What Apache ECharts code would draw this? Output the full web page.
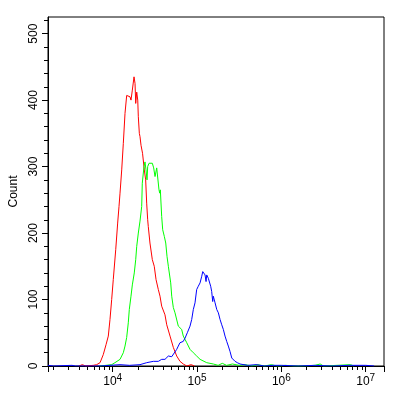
<!DOCTYPE html>
<html>
<head>
<meta charset="utf-8">
<script src="https://cdn.jsdelivr.net/npm/echarts@6/dist/echarts.min.js"></script>
<style>
html,body{margin:0;padding:0;background:#fff;}
#chart{width:404px;height:394px;}
</style>
</head>
<body>
<div id="chart"></div>
<script>
// x positions are in decades (log10 of fluorescence intensity)
var redX = [3.60,3.64,3.68,3.77,3.81,3.85,3.888,3.921,3.948,3.968,3.988,4.007,4.036,4.059,4.075,4.087,4.107,4.126,4.146,4.166,4.185,4.205,4.217,4.233,4.253,4.265,4.273,4.285,4.297,4.304,4.316,4.324,4.336,4.354,4.375,4.391,4.403,4.415,4.422,4.442,4.470,4.493,4.514,4.541,4.561,4.581,4.600,4.620,4.641,4.680,4.719,4.759,4.798,4.837,4.878,4.93,4.97];
var redY = [0,2,0,1,2,5,17,32,45,70,100,130,175,215,240,260,295,335,380,407,408,405,400,415,435,425,395,412,400,375,350,345,332,320,295,280,245,220,210,185,160,150,130,115,105,90,88,77,62,45,28,15,7,3,0,2,0];

var greenX = [3.85,3.988,4.027,4.087,4.126,4.146,4.166,4.185,4.197,4.217,4.233,4.256,4.273,4.285,4.304,4.324,4.344,4.351,4.371,4.383,4.395,4.407,4.415,4.431,4.454,4.470,4.486,4.502,4.522,4.541,4.549,4.558,4.565,4.581,4.593,4.612,4.629,4.644,4.660,4.688,4.700,4.719,4.739,4.778,4.818,4.837,4.858,4.878,4.917,4.956,4.996,5.036,5.115,5.193,5.25,5.30,5.35,5.42,5.50,5.57,5.65,5.72,5.80,5.88,5.95,6.05,6.15,6.25,6.40,6.46,6.5,6.82,6.86];
var greenY = [0,2,5,10,20,30,43,65,85,105,122,140,160,180,200,218,240,275,300,307,295,280,300,305,302,305,298,285,298,295,265,260,265,225,205,195,185,165,150,125,105,88,80,60,55,45,40,35,25,20,15,10,5,3,1,4,1,3,1,2,0,2,0,2,0,1,0,0,1,3,0,2,0];

var blueX = [3.233,3.30,3.517,3.56,3.849,4.087,4.20,4.324,4.403,4.482,4.541,4.581,4.620,4.660,4.700,4.719,4.759,4.778,4.798,4.837,4.858,4.885,4.917,4.937,4.956,4.976,4.996,5.015,5.036,5.056,5.068,5.087,5.095,5.107,5.115,5.134,5.146,5.162,5.174,5.186,5.193,5.214,5.234,5.253,5.273,5.293,5.312,5.332,5.352,5.371,5.391,5.412,5.431,5.451,5.478,5.510,5.60,5.70,5.80,5.90,6.00,6.20,6.40,6.60,6.80,7.00,7.10];
var blueY = [1,0,1,0,0,2,1,2,5,7,7,10,10,15,14,17,25,30,35,37,42,50,60,70,85,95,115,120,125,135,142,142,137,127,137,132,130,120,112,97,105,95,85,80,70,62,55,45,37,30,22,12,10,7,5,3,1,2,0,1,1,0,1,0,1,1,0];

var xMin = 3.233, xMax = 7.217;
var majorDecades = [4,5,6,7];
var yMax = 525;
var yMajor = [0,100,200,300,400,500];

function zip(xs, ys){ var o=[]; for(var i=0;i<xs.length;i++){ o.push([xs[i], ys[i]]); } return o; }

var minorTicks = [];
for (var d = 3; d <= 7; d++) {
  for (var k = 2; k <= 9; k++) {
    var v = d + Math.log10(k);
    if (v > xMin && v < xMax) minorTicks.push(v);
  }
}
var yMinor = [];
for (var yv = 0; yv <= yMax; yv += 20) yMinor.push(yv);

var FONT = 'Liberation Sans';
var chart = echarts.init(document.getElementById('chart'));
chart.setOption({
  animation: false,
  backgroundColor: '#fff',
  grid: { left: 48, top: 17, width: 336, height: 349, show: true, borderColor: '#000', borderWidth: 1, containLabel: false },
  xAxis: [{
    type: 'value', min: xMin, max: xMax,
    axisLine: { show: true, lineStyle: { color: '#000', width: 1 } },
    axisTick: { show: true, length: 6, lineStyle: { color: '#000' }, customValues: [xMin].concat(majorDecades).concat([xMax]) },
    splitLine: { show: false },
    axisLabel: {
      show: true, customValues: majorDecades, margin: 7,
      formatter: function (v) { return '{a|10}{b|' + Math.round(v) + '}'; },
      rich: {
        a: { fontFamily: FONT, fontSize: 12, color: '#000', lineHeight: 18 },
        b: { fontFamily: FONT, fontSize: 10, color: '#000', lineHeight: 10, verticalAlign: 'top' }
      }
    }
  }, {
    type: 'value', min: xMin, max: xMax, position: 'bottom',
    axisLine: { show: false },
    axisTick: { show: true, length: 4, lineStyle: { color: '#000' }, customValues: minorTicks },
    splitLine: { show: false },
    axisLabel: { show: false }
  }],
  yAxis: [{
    type: 'value', min: 0, max: yMax,
    name: 'Count', nameLocation: 'middle', nameGap: 26, nameRotate: 90,
    nameTextStyle: { fontFamily: FONT, fontSize: 12, color: '#000' },
    axisLine: { show: true, lineStyle: { color: '#000', width: 1 } },
    axisTick: { show: true, length: 6, lineStyle: { color: '#000' }, customValues: yMajor },
    splitLine: { show: false },
    axisLabel: { show: true, customValues: yMajor, rotate: 90, margin: 8, fontFamily: FONT, fontSize: 12, color: '#000' }
  }, {
    type: 'value', min: 0, max: yMax, position: 'left',
    axisLine: { show: false },
    axisTick: { show: true, length: 4, lineStyle: { color: '#000' }, customValues: yMinor },
    splitLine: { show: false },
    axisLabel: { show: false }
  }],
  series: [
    { type: 'line', data: zip(redX, redY), showSymbol: false, symbol: 'none', lineStyle: { color: '#ff0000', width: 1 }, z: 3 },
    { type: 'line', data: zip(greenX, greenY), showSymbol: false, symbol: 'none', lineStyle: { color: '#00ff00', width: 1 }, z: 4 },
    { type: 'line', data: zip(blueX, blueY), showSymbol: false, symbol: 'none', lineStyle: { color: '#0000ff', width: 1 }, z: 5 }
  ]
});
</script>
</body>
</html>
